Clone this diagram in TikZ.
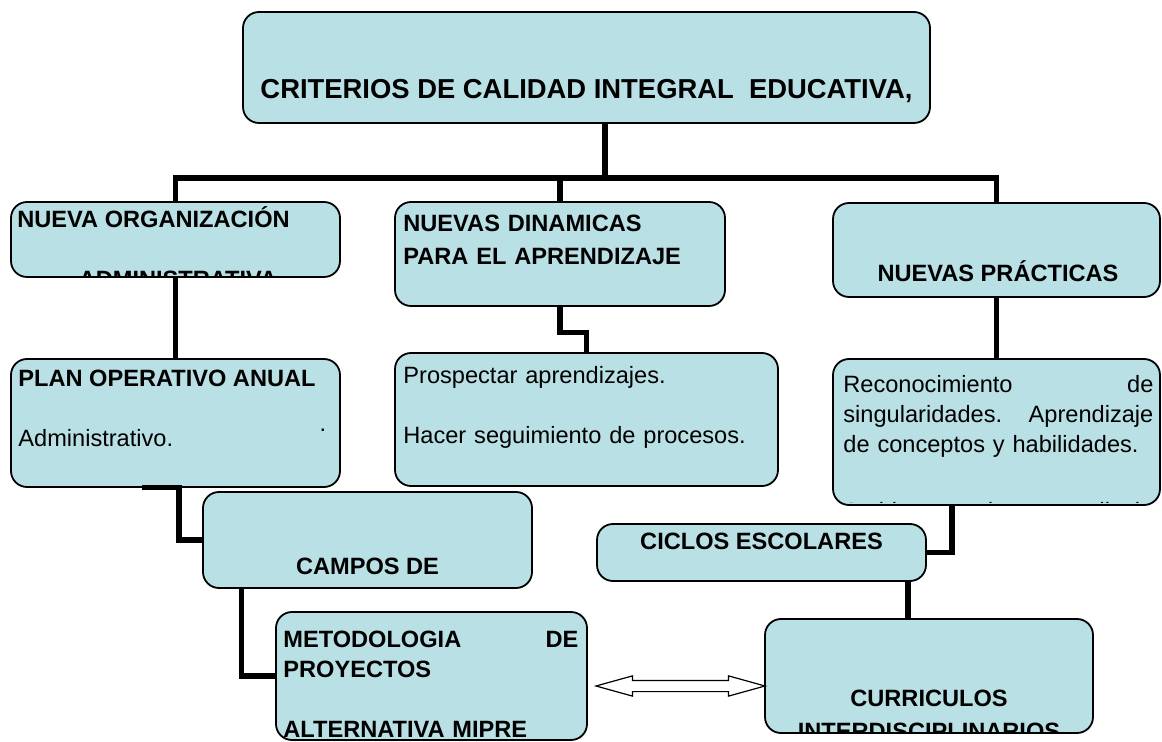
\documentclass[tikz,border=0pt]{standalone}
\usepackage{fontspec}
\setmainfont{Liberation Sans}
\usetikzlibrary{shapes.arrows}

\definecolor{boxfill}{RGB}{185,224,228}
\newcommand{\gap}{\hskip 0pt plus 1filll}

\begin{document}
\begin{tikzpicture}[
    x=0.5pt, y=-0.5pt,
    box/.style={rectangle, rounded corners=8pt, draw=black, fill=boxfill, line width=0.9pt, inner sep=0pt},
    txt/.style={inner sep=0pt, font=\fontsize{11.8}{15}\selectfont},
    head/.style={txt, font=\fontsize{11.8}{15}\selectfont\bfseries},
    link/.style={draw=black, line width=2.6pt}
    ]
        \useasboundingbox (0,0) rectangle (1162,742);

        %Boxes
        \node[box, minimum width=343.5pt, minimum height=55.5pt] (crit)   at (586.5,67.5) {};
        \node[box, minimum width=164.5pt, minimum height=37.5pt] (org)    at (175.5,239.5) {};
        \node[box, minimum width=165pt,   minimum height=52pt]   (din)    at (560,254) {};
        \node[box, minimum width=163.5pt, minimum height=47pt]   (pra)    at (996.5,250) {};
        \node[box, minimum width=164.5pt, minimum height=64pt]   (plan)   at (175.5,423) {};
        \node[box, minimum width=191.5pt, minimum height=66.5pt] (pros)   at (586.5,419.5) {};
        \node[box, minimum width=163.5pt, minimum height=73pt]   (rec)    at (996.5,432) {};
        \node[box, minimum width=164.5pt, minimum height=48pt]   (campos) at (367.5,540) {};
        \node[box, minimum width=164.5pt, minimum height=28.5pt] (ciclos) at (761.5,552.5) {};
        \node[box, minimum width=155.5pt, minimum height=64pt]   (met)    at (431.5,676) {};
        \node[box, minimum width=164pt,   minimum height=57pt]   (cur)    at (929,676) {};

        %Texts
        \node[head, font=\fontsize{13.7}{16}\selectfont\bfseries, anchor=base]
            (critT) at (586.5,99) {CRITERIOS DE CALIDAD INTEGRAL\ \ EDUCATIVA,};
        \node[head, anchor=base west]
            (orgT) at (17,228) {NUEVA ORGANIZACIÓN};
        \node[head, anchor=base west, text width=160pt, font=\fontsize{11.8}{16.5}\selectfont\bfseries]
            (dinT) at (403,232) {NUEVAS DINAMICAS\\PARA EL APRENDIZAJE};
        \node[head, anchor=base]
            (praT) at (998,282) {NUEVAS PRÁCTICAS};
        \node[head, anchor=base west]
            (planT) at (18,387) {PLAN OPERATIVO ANUAL};
        \node[txt, anchor=base west]
            (planS) at (18,447) {Administrativo.};
        \node[txt, anchor=base]
            (planD) at (323,432) {.};
        \node[txt, anchor=base west, text width=185pt]
            (prosT) at (403,384) {Prospectar aprendizajes.\\[15pt]Hacer seguimiento de procesos.};
        \node[txt, anchor=base west, text width=155pt]
            (recT) at (843,393) {Reconocimiento\gap de\\singularidades.\gap Aprendizaje\\de conceptos y habilidades.};
        \node[head, anchor=base]
            (camposT) at (367.5,575) {CAMPOS DE};
        \node[head, anchor=base]
            (ciclosT) at (761.5,550) {CICLOS ESCOLARES};
        \node[head, anchor=base west, text width=147.5pt]
            (metT) at (283,647) {METODOLOGIA\gap DE\\PROYECTOS\\[15pt]ALTERNATIVA MIPRE};
        \node[head, anchor=base]
            (curT) at (929,706) {CURRICULOS};

        %Cut texts
        \begin{scope}
            \clip ([yshift=1pt]org.south west) rectangle (org.north east);
            \node[head, anchor=base] (orgS) at (178,288) {ADMINISTRATIVA};
        \end{scope}
        \begin{scope}
            \clip ([yshift=1.5pt]rec.south west) rectangle (rec.north east);
            \node[txt, anchor=base west, text width=155pt] (recS) at (843,520) {Ambientes\gap de\gap aprendizaje};
        \end{scope}
        \begin{scope}
            \clip ([yshift=1pt]cur.south west) rectangle (cur.north east);
            \node[head, anchor=base] (curS) at (929,740) {INTERDISCIPLINARIOS};
        \end{scope}

        %Lines
        \coordinate (hub) at (605,178);
        \draw[link] (crit.south -| hub) -- (hub);
        \draw[link] (org.north) |- (hub) -| (pra.north);
        \draw[link] (din.north) -- (din.north |- hub);
        \draw[link] (org.south) -- (plan.north);
        \draw[link] (din.south) -- ++(0,26) -| (pros.north);
        \draw[link] (pra.south) -- (rec.north);
        \draw[link] ([xshift=-16.75pt]plan.south) -- ++(37,0) |- (campos.west);
        \draw[link] ([xshift=19.5pt]campos.south west) |- (met.west);
        \draw[link] ([xshift=-22.25pt]rec.south) |- (ciclos.east);
        \draw[link] ([xshift=-10.5pt]cur.north) -- ([xshift=-10.5pt]cur.north |- ciclos.south);

        %Double arrow
        \node[double arrow, draw=black, fill=white, line width=0.6pt, minimum height=84.5pt,
            minimum width=9.5pt, inner sep=2.5pt, double arrow head extend=2.25pt,
            double arrow tip angle=31] (both) at (680.5,686) {};
\end{tikzpicture}
\end{document}
